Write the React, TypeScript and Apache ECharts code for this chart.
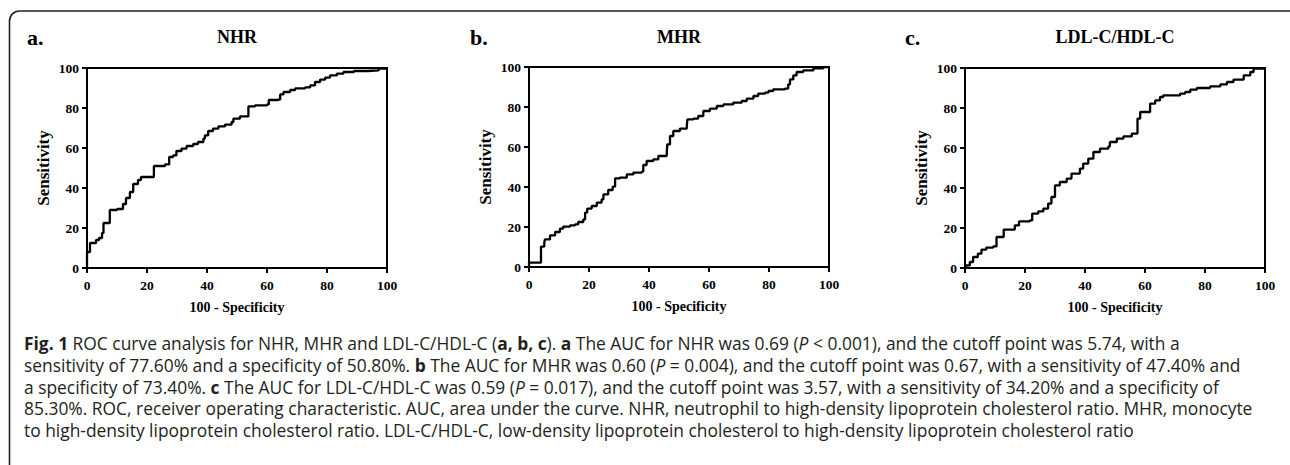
import React, { useEffect, useRef } from "react";
import * as echarts from "echarts";

const panelLetters = ["a.", "b.", "c."];
const panelTitles = ["NHR", "MHR", "LDL-C/HDL-C"];
const xAxisName = "100 - Specificity";
const yAxisName = "Sensitivity";

const nhrFpr = [0, 0, 1, 3, 4, 5, 5.5, 7.6, 10, 12, 13, 14.3, 15.4, 17, 18, 22.3, 26, 27.4, 28.7, 29.8, 31.5, 33.2, 35.4, 37, 38.8, 39.3, 40.4, 42, 43.8, 46, 48.2, 48.8, 51, 53.8, 56, 60, 60.6, 63.4, 64.4, 65.5, 67.7, 69.4, 72.7, 74.4, 76, 77.7, 79.4, 81, 83.3, 85.5, 89, 93.5, 97.2, 100];
const nhrSens = [0, 8, 12.5, 14, 15, 17.5, 22.5, 29, 29.5, 32, 35, 38, 42, 44, 45.5, 51, 51.8, 55.5, 56.3, 58.5, 59.7, 61, 62, 63, 64.7, 66.3, 68.5, 69.7, 70.8, 71.7, 73, 74.7, 75.8, 80.8, 81.3, 81.8, 84, 84.3, 86.8, 88, 89, 89.8, 90.3, 91.3, 93, 94.2, 95.2, 96.3, 97.2, 98, 98.5, 98.8, 99.7, 100];

const mhrFpr = [0, 0, 4, 5.1, 5.3, 7, 8.7, 10.3, 11.4, 13.7, 15.3, 16.4, 18.1, 18.7, 19.4, 20.9, 22.6, 24.2, 24.8, 26.4, 27.9, 28.7, 30.3, 32.6, 34.8, 37.6, 38.1, 39.2, 41.4, 43.1, 45.9, 46.1, 47, 48.1, 50.3, 52.6, 52.8, 54.8, 56.4, 58.1, 60.3, 62.6, 64.8, 68.1, 70.9, 72.6, 74.8, 76.4, 78.7, 79.8, 81.4, 85.3, 86.4, 87, 88.1, 89.2, 91.4, 94.8, 98.1, 100];
const mhrSens = [0, 2.2, 10.2, 12.2, 13.8, 15.8, 17.5, 19.2, 20.2, 20.8, 21.3, 22.5, 23.8, 27.2, 29.2, 30.5, 32.2, 33.8, 36.3, 38.5, 40.2, 44.3, 44.7, 46.3, 47.2, 47.7, 51, 53, 53.8, 55.5, 56.3, 61.3, 65.5, 68, 69.2, 70.5, 73.8, 74.2, 75.5, 78, 79.2, 80.5, 81.3, 82.2, 83, 84.2, 85.5, 86.7, 87.2, 88, 88.8, 89.2, 91.3, 93.8, 95.8, 97.5, 98.3, 99.3, 100, 100];

const ldlFpr = [0, 0.4, 1.6, 2.7, 4.3, 5.5, 7.1, 9.4, 10.5, 12.9, 16.6, 18, 21.6, 22.4, 24.4, 26.1, 27.7, 28.8, 30, 31.6, 33.9, 35.5, 38.3, 39.4, 41.1, 42.8, 45, 47.8, 48.3, 50.6, 52.8, 55.6, 57.5, 58.4, 61.7, 63.4, 65, 66.1, 71.7, 73.4, 75.1, 77.3, 81.7, 85.1, 87.3, 89.5, 92.9, 95.1, 96.2, 100];
const ldlSens = [0, 1.3, 3, 5.5, 7.2, 9.2, 10.2, 10.8, 15.5, 19.2, 21.3, 23.3, 23.8, 27.2, 28.3, 29.7, 32.2, 35.5, 41.3, 43, 44.7, 47.2, 49.7, 52.2, 54.7, 58, 59.7, 60.8, 63, 64.7, 65.8, 67.2, 74.7, 78, 82.2, 83.8, 85.5, 86.3, 87.2, 88, 89.2, 90, 90.8, 91.8, 93, 94.2, 96.3, 98, 99.7, 100];

const captionLines = [
  "{b|Fig. 1} ROC curve analysis for NHR, MHR and LDL-C/HDL-C ({b|a, b, c}). {b|a} The AUC for NHR was 0.69 ({i|P} < 0.001), and the cutoff point was 5.74, with a",
  "sensitivity of 77.60% and a specificity of 50.80%. {b|b} The AUC for MHR was 0.60 ({i|P} = 0.004), and the cutoff point was 0.67, with a sensitivity of 47.40% and",
  "a specificity of 73.40%. {b|c} The AUC for LDL-C/HDL-C was 0.59 ({i|P} = 0.017), and the cutoff point was 3.57, with a sensitivity of 34.20% and a specificity of",
  "85.30%. ROC, receiver operating characteristic. AUC, area under the curve. NHR, neutrophil to high-density lipoprotein cholesterol ratio. MHR, monocyte",
  "to high-density lipoprotein cholesterol ratio. LDL-C/HDL-C, low-density lipoprotein cholesterol to high-density lipoprotein cholesterol ratio",
];

const SERIF = '"Liberation Serif", "Times New Roman", serif';
const SANS = '"Open Sans", "Noto Sans", sans-serif';
const CAP_SIZE = 17.4;
const CAP_COLOR = "#231f20";

const zip = (xs: number[], ys: number[]) => xs.map((x, i) => [x, ys[i]]);

export default function App() {
  const ref = useRef<HTMLDivElement>(null);
  useEffect(() => {
    if (!ref.current) return;
    const chart = echarts.init(ref.current, undefined, { renderer: "svg" });
    const grids = [
      { left: 87, top: 68, width: 300, height: 200 },
      { left: 529, top: 67, width: 300, height: 200 },
      { left: 965, top: 68, width: 300, height: 200 },
    ];
    const letterX = [27, 470, 905];
    const datasets = [zip(nhrFpr, nhrSens), zip(mhrFpr, mhrSens), zip(ldlFpr, ldlSens)];

    const axisCommon = {
      type: "value" as const,
      min: 0,
      max: 100,
      interval: 20,
      splitLine: { show: false },
      axisLine: { show: true, lineStyle: { color: "#000", width: 2 } },
      axisTick: { show: true, length: 5, lineStyle: { color: "#000", width: 2 } },
    };

    const graphics: any[] = [
      {
        type: "rect",
        shape: { x: 9.5, y: 11, width: 1300, height: 480, r: 10 },
        style: { fill: "none", stroke: "#222", lineWidth: 1.6 },
        silent: true,
      },
    ];
    grids.forEach((g, i) => {
      graphics.push({
        type: "text",
        x: letterX[i],
        y: 37,
        style: { text: panelLetters[i], fontFamily: SERIF, fontWeight: "bold", fontSize: 22, fill: "#000", align: "left", verticalAlign: "middle" },
      });
      graphics.push({
        type: "text",
        x: g.left + g.width / 2,
        y: 37,
        style: { text: panelTitles[i], fontFamily: SERIF, fontWeight: "bold", fontSize: 18, fill: "#000", align: "center", verticalAlign: "middle" },
      });
    });
    captionLines.forEach((line, i) => {
      graphics.push({
        type: "text",
        x: 24,
        y: 343 + i * 21.8,
        style: {
          text: line,
          fontFamily: SANS,
          fontSize: CAP_SIZE,
          fill: CAP_COLOR,
          align: "left",
          verticalAlign: "middle",
          rich: {
            b: { fontFamily: SANS, fontSize: CAP_SIZE, fontWeight: "bold", fill: CAP_COLOR },
            i: { fontFamily: SANS, fontSize: CAP_SIZE, fontStyle: "italic", fill: CAP_COLOR },
          },
        },
      });
    });

    chart.setOption({
      animation: false,
      backgroundColor: "#fff",
      grid: grids.map((g) => ({ ...g, show: true, borderColor: "#000", borderWidth: 2, backgroundColor: "transparent" })),
      xAxis: grids.map((_, i) => ({
        ...axisCommon,
        gridIndex: i,
        name: xAxisName,
        nameLocation: "middle",
        nameGap: 32,
        nameTextStyle: { fontFamily: SERIF, fontWeight: "bold", fontSize: 14, color: "#000" },
        axisLabel: { margin: 10, fontFamily: SERIF, fontWeight: "bold", fontSize: 13.5, color: "#000" },
      })),
      yAxis: grids.map((_, i) => ({
        ...axisCommon,
        gridIndex: i,
        name: yAxisName,
        nameLocation: "middle",
        nameGap: 35,
        nameTextStyle: { fontFamily: SERIF, fontWeight: "bold", fontSize: 17, color: "#000" },
        axisLabel: { margin: 8, fontFamily: SERIF, fontWeight: "bold", fontSize: 13.5, color: "#000" },
      })),
      series: datasets.map((d, i) => ({
        type: "line",
        xAxisIndex: i,
        yAxisIndex: i,
        data: d,
        step: "end",
        symbol: "none",
        lineStyle: { color: "#000", width: 2.3 },
      })),
      graphic: graphics,
    });
    return () => chart.dispose();
  }, []);
  return <div ref={ref} style={{ position: "absolute", left: 0, top: 0, width: 1290, height: 465, background: "#fff" }} />;
}
